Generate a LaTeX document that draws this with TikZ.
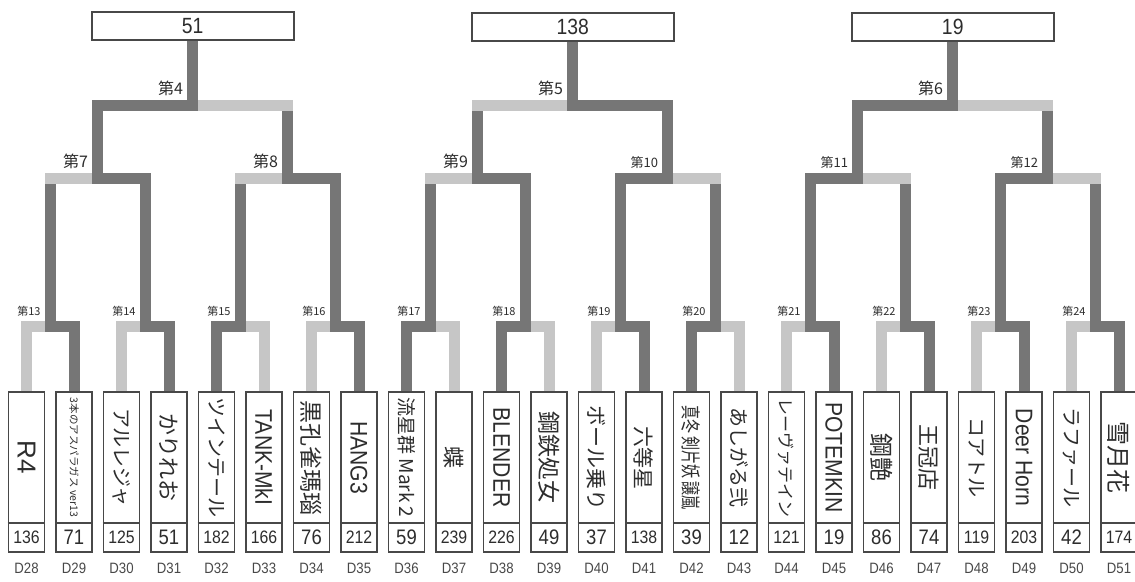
\documentclass[tikz,border=0pt]{standalone}
\usepackage{fontspec}
\setmainfont{Liberation Sans}
\newfontfamily\jp{Noto Sans CJK JP}
\newfontfamily\tall[FakeStretch=0.88]{Liberation Sans}
\usetikzlibrary{calc,positioning}
\definecolor{winline}{RGB}{118,118,118}
\definecolor{loseline}{RGB}{198,198,198}
\definecolor{frame}{RGB}{72,72,72}
\definecolor{ink}{RGB}{45,45,45}
\newcommand{\fs}[1]{\fontsize{#1}{#1}\selectfont}
\tikzset{
  win/.style={draw=winline, line width=11pt},
  lose/.style={draw=loseline, line width=11pt},
  bar/.style={line cap=rect},
  entry/.style={draw=frame, line width=1.6pt, minimum width=36pt, minimum height=160pt, inner sep=0pt},
  ename/.style={rotate=-90, text=ink, inner sep=0pt},
  score/.style={text=ink, inner sep=0pt, font=\tall},
  slot/.style={text=frame, font=\tall\fs{15}, inner sep=0pt},
  bout/.style={text=ink, inner sep=0pt, anchor=south east},
  final/.style={draw=frame, line width=1.6pt, fill=white, minimum width=202pt, minimum height=28pt, inner sep=0pt, font=\tall\fs{22}, text=ink}
}
\begin{document}
\begin{tikzpicture}[x=1pt,y=-1pt]
    \path[use as bounding box, fill=white] (0,0) rectangle (1135,581);
    % match points, three rounds
    \foreach \j in {0,...,11} {
        \pgfmathtruncatemacro\m{13+\j}
        \coordinate (m\m) at ({50.25+95*\j},326);
    }
    \foreach \j in {0,...,5} {
        \pgfmathtruncatemacro\m{7+\j}
        \coordinate (m\m) at ({97.75+190*\j},178);
    }
    \foreach \j in {0,1,2} {
        \pgfmathtruncatemacro\m{4+\j}
        \coordinate (m\m) at ({192.75+380*\j},105);
    }
    \node[final] (t4) at (192.75,26) {51};
    \node[final] (t5) at (572.75,27) {138};
    \node[final] (t6) at (952.75,27) {19};
    % entries
    \foreach \i/\n/\t/\s/\r in {
        0/28/{\fs{26}R4}/136/lose,
        1/29/{\jp\fs{10.5}3本のアスパラガス ver13}/71/win,
        2/30/{\jp\fs{20}アルレジャ}/125/lose,
        3/31/{\jp\fs{22}かりれお}/51/win,
        4/32/{\jp\fs{20}ツインテール}/182/win,
        5/33/{\tall\fs{24}TANK-MkI}/166/lose,
        6/34/{\jp\fs{23}黒孔雀瑪瑙}/76/lose,
        7/35/{\tall\fs{24}HANG3}/212/win,
        8/36/{\jp\fs{19}流星群 Mark 2}/59/win,
        9/37/{\jp\fs{22}蝶}/239/lose,
        10/38/{\tall\fs{24}BLENDER}/226/win,
        11/39/{\jp\fs{23}鋼鉄処女}/49/lose,
        12/40/{\jp\fs{21}ボール乗り}/37/lose,
        13/41/{\jp\fs{21}六等星}/138/win,
        14/42/{\jp\fs{20}\scalebox{0.7}[1]{真冬 剣片妖 譲嵐}}/39/win,
        15/43/{\jp\fs{20}あしがる弐}/12/lose,
        16/44/{\jp\fs{17}レーヴァテイン}/121/lose,
        17/45/{\tall\fs{24}POTEMKIN}/19/win,
        18/46/{\jp\fs{24}鋼艶}/86/lose,
        19/47/{\jp\fs{22}王冠店}/74/win,
        20/48/{\jp\fs{20}コアトル}/119/lose,
        21/49/{\tall\fs{24}Deer Horn}/203/win,
        22/50/{\jp\fs{20}ラファール}/42/lose,
        23/51/{\jp\fs{24}雪月花}/174/win} {
        \pgfmathsetmacro\x{26.5+47.5*\i}
        \pgfmathtruncatemacro\m{13+floor(\i/2)}
        \node[entry] (d\n) at (\x,472) {};
        \draw[frame, line width=1.6pt] ($(d\n.west)+(0,51)$) -- ($(d\n.east)+(0,51)$);
        \node[ename] (n\n) at (\x,457.5) {\t};
        \node[score] (s\n) at (\x,537.5) {\ifnum\s>99 \fs{18}\else\fs{21}\fi\s};
        \node[slot] (id\n) at (\x,568) {D\n};
        \draw[\r] (d\n.north) -- (d\n.north |- m\m);
    }
    \foreach \c/\p in {13/7,14/7,15/8,16/8,17/9,18/9,19/10,20/10,21/11,22/11,23/12,24/12,7/4,8/4,9/5,10/5,11/6,12/6}
        \draw[win] (m\c) -- (m\c |- m\p);
    \draw[win] (m4) -- (t4.south);
    \draw[win] (m5) -- (t5.south);
    \draw[win] (m6) -- (t6.south);
    % bars: loser half, then winner half
    \foreach \m/\w/\l in {13/d29/d28,14/d31/d30,15/d32/d33,16/d35/d34,17/d36/d37,18/d38/d39,
        19/d41/d40,20/d42/d43,21/d45/d44,22/d47/d46,23/d49/d48,24/d51/d50,
        7/m14/m13,8/m16/m15,9/m18/m17,10/m19/m20,11/m21/m22,12/m23/m24,4/m7/m8,5/m10/m9,6/m11/m12} {
        \draw[lose, bar] (m\m) -- (m\m -| \l);
        \draw[win, bar] (m\m) -- (m\m -| \w);
    }
    \foreach \m/\f in {13/11,14/11,15/11,16/11,17/11,18/11,19/11,20/11,21/11,22/11,23/11,24/11,
        7/16,8/16,9/16,10/13,11/13,12/13,4/16,5/16,6/16}
        \node[bout, font=\jp\fs{\f}] (b\m) at ($(m\m)+(-9.5,-9.5)$) {第\m};
\end{tikzpicture}
\end{document}
